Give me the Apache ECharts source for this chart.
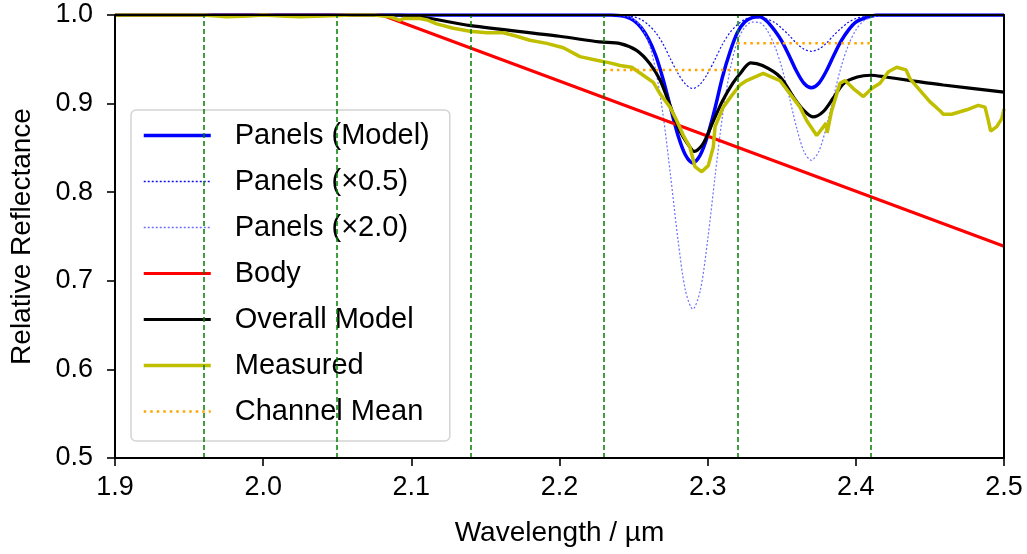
<!DOCTYPE html>
<html>
<head>
<meta charset="utf-8">
<script src="https://cdn.jsdelivr.net/npm/echarts@6/dist/echarts.min.js"></script>
<style>
  html, body { margin: 0; padding: 0; background: #fff; }
  #chart { width: 1027px; height: 554px; }
</style>
</head>
<body>
<div id="chart"></div>
<script>
// wavelength grid shared by the panel curves
const panelX = [1.9, 2.23, 2.235, 2.24, 2.245, 2.25, 2.255, 2.26, 2.265, 2.27, 2.275, 2.28, 2.285, 2.29, 2.295,
  2.30, 2.305, 2.31, 2.315, 2.32, 2.325, 2.33, 2.335, 2.34, 2.345, 2.35, 2.355, 2.36, 2.365, 2.37, 2.375,
  2.38, 2.385, 2.39, 2.395, 2.40, 2.405, 2.41, 2.415, 2.42, 2.5];
const panelModel = [1.0, 1.0, 1.0, 0.9995, 0.998, 0.994, 0.986, 0.973, 0.954, 0.927, 0.895, 0.864, 0.842, 0.833, 0.842,
  0.864, 0.895, 0.930, 0.958, 0.980, 0.992, 0.997, 0.998, 0.993, 0.983, 0.9705, 0.954, 0.9365, 0.923, 0.918, 0.923,
  0.9365, 0.954, 0.9705, 0.983, 0.992, 0.996, 0.9986, 1.0, 1.0, 1.0];
const panelHalf = [1.0, 1.0, 1.0, 0.9995, 0.999, 0.998, 0.995, 0.989, 0.980, 0.967, 0.950, 0.934, 0.922, 0.917, 0.922,
  0.934, 0.950, 0.967, 0.980, 0.989, 0.995, 0.997, 0.997, 0.9955, 0.9917, 0.985, 0.977, 0.968, 0.9615, 0.959, 0.9615,
  0.968, 0.977, 0.985, 0.9917, 0.996, 0.998, 0.999, 1.0, 1.0, 1.0];
const panelDouble = [1.0, 1.0, 0.9999, 0.9996, 0.9985, 0.995, 0.987, 0.970, 0.937, 0.886, 0.818, 0.746, 0.689, 0.668, 0.689,
  0.746, 0.818, 0.886, 0.937, 0.970, 0.986, 0.992, 0.9915, 0.983, 0.966, 0.941, 0.908, 0.873, 0.846, 0.836, 0.846,
  0.873, 0.908, 0.941, 0.966, 0.983, 0.993, 0.997, 0.999, 1.0, 1.0];

// body continuum
const bodyX = [1.9, 2.08, 2.5];
const bodyY = [1.0, 1.0, 0.739];

// overall model
const overallX = [1.9, 2.092, 2.14, 2.2, 2.227, 2.241, 2.252, 2.261, 2.268, 2.275, 2.281, 2.288, 2.291, 2.297, 2.304,
  2.31, 2.317, 2.322, 2.329, 2.337, 2.349, 2.358, 2.365, 2.371, 2.378, 2.385, 2.392, 2.401, 2.41, 2.42, 2.437, 2.459, 2.5];
const overallY = [1.0, 1.0, 0.988, 0.976, 0.9696, 0.9677, 0.960, 0.945, 0.926, 0.896, 0.870, 0.851, 0.846, 0.855, 0.881,
  0.903, 0.923, 0.934, 0.946, 0.943, 0.930, 0.907, 0.892, 0.885, 0.891, 0.907, 0.923, 0.930, 0.932, 0.930, 0.926, 0.921, 0.913];

// measured spectrum
const measX = [1.9, 1.96, 1.975, 1.99, 2.0, 2.012, 2.025, 2.04, 2.06, 2.075, 2.0856, 2.0924, 2.0946, 2.1058, 2.1115,
  2.1171, 2.1283, 2.1396, 2.1509, 2.162, 2.1711, 2.180, 2.1914, 2.2026, 2.2138, 2.2251, 2.234, 2.2408, 2.2487, 2.2565,
  2.2633, 2.2679, 2.2746, 2.2791, 2.2836, 2.288, 2.2914, 2.296, 2.3004, 2.3038, 2.305, 2.3105, 2.3162, 2.3218, 2.3263,
  2.3375, 2.3488, 2.3556, 2.3623, 2.3668, 2.3736, 2.3800, 2.3806, 2.3837, 2.3893, 2.3927, 2.3983, 2.4051, 2.4107, 2.4163,
  2.422, 2.4276, 2.4339, 2.4366, 2.4433, 2.4501, 2.4568, 2.459, 2.4647, 2.4748, 2.4826, 2.4872, 2.4894, 2.491, 2.4951,
  2.4985, 2.5];
const measY = [1.0, 1.0, 0.998, 0.999, 1.0, 0.999, 0.998, 0.999, 1.0, 1.0, 0.998, 0.994, 0.996, 0.996, 0.994,
  0.990, 0.985, 0.9816, 0.980, 0.980, 0.976, 0.9715, 0.968, 0.963, 0.953, 0.949, 0.946, 0.943, 0.941, 0.932,
  0.924, 0.911, 0.896, 0.881, 0.864, 0.851, 0.829, 0.823, 0.830, 0.851, 0.874, 0.896, 0.909, 0.921, 0.926,
  0.934, 0.926, 0.911, 0.896, 0.881, 0.864, 0.878, 0.867, 0.892, 0.923, 0.926, 0.917, 0.908, 0.917, 0.923,
  0.936, 0.941, 0.938, 0.928, 0.915, 0.902, 0.892, 0.888, 0.888, 0.893, 0.898, 0.896, 0.881, 0.869, 0.874,
  0.883, 0.894];

// channels: edges and mean of the measured spectrum inside each plotted channel
const channelEdges = [1.96, 2.05, 2.14, 2.23, 2.32, 2.41];
const channelStart = [2.23, 2.32];
const channelEnd = [2.32, 2.41];
const channelMean = [0.938, 0.968];

const xTicks = [1.9, 2.0, 2.1, 2.2, 2.3, 2.4, 2.5];
const yTicks = [0.5, 0.6, 0.7, 0.8, 0.9, 1.0];

function zip(xs, ys) {
  return xs.map((x, i) => [x, ys[i]]);
}

// segmentos de la media por canal, separados con un hueco
const meanData = [];
channelMean.forEach((m, i) => {
  if (i > 0) meanData.push([channelStart[i], '-']);
  meanData.push([channelStart[i], m]);
  meanData.push([channelEnd[i], m]);
});

const FONT = 'Liberation Sans';
const HALF_COLOR = '#1010ee';
const DOUBLE_COLOR = '#6f6fff';
const chart = echarts.init(document.getElementById('chart'));

const axisCommon = {
  type: 'value',
  z: 10,
  axisLine: { show: true, onZero: false, lineStyle: { color: '#000', width: 2 } },
  splitLine: { show: false }
};

const option = {
  animation: false,
  backgroundColor: '#fff',
  textStyle: { fontFamily: FONT },
  grid: { left: 115, right: 23, top: 15, bottom: 96, outerBoundsMode: 'none' },
  legend: {
    orient: 'vertical',
    left: 131,
    top: 110,
    data: [
      'Panels (Model)',
      { name: 'Panels (\u00d70.5)', lineStyle: { color: HALF_COLOR, width: 1.6, type: [2, 2] } },
      { name: 'Panels (\u00d72.0)', lineStyle: { color: DOUBLE_COLOR, width: 1.6, type: [2, 2] } },
      'Body', 'Overall Model', 'Measured', 'Channel Mean'
    ],
    itemWidth: 67,
    itemHeight: 14,
    itemGap: 17,
    padding: [11, 20, 15, 11],
    backgroundColor: 'rgba(255,255,255,0.8)',
    borderColor: '#d4d4d4',
    borderWidth: 1.5,
    borderRadius: 5,
    itemStyle: { opacity: 0 },
    lineStyle: { width: 'inherit' },
    textStyle: { fontFamily: FONT, fontSize: 29, color: '#000', lineHeight: 29, padding: [0, 0, 0, 19] }
  },
  xAxis: [
    Object.assign({}, axisCommon, {
      min: xTicks[0], max: xTicks[xTicks.length - 1], interval: 0.1,
      position: 'bottom',
      name: 'Wavelength / \u00b5m',
      nameLocation: 'middle',
      nameGap: 61,
      nameTextStyle: { fontFamily: FONT, fontSize: 28, color: '#000' },
      axisTick: { show: true, inside: false, length: 8, lineStyle: { color: '#000', width: 1.6 } },
      axisLabel: { margin: 16, fontFamily: FONT, fontSize: 27, color: '#000', showMaxLabel: true, showMinLabel: true,
        formatter: v => v.toFixed(1) }
    }),
    Object.assign({}, axisCommon, {
      min: xTicks[0], max: xTicks[xTicks.length - 1], interval: 0.1,
      position: 'top',
      axisTick: { show: false }, axisLabel: { show: false }
    })
  ],
  yAxis: [
    Object.assign({}, axisCommon, {
      min: yTicks[0], max: yTicks[yTicks.length - 1], interval: 0.1,
      position: 'left',
      name: 'Relative Reflectance',
      nameLocation: 'middle',
      nameGap: 79,
      nameTextStyle: { fontFamily: FONT, fontSize: 28, color: '#000' },
      axisTick: { show: true, inside: false, length: 8, lineStyle: { color: '#000', width: 1.6 } },
      axisLabel: { margin: 22, fontFamily: FONT, fontSize: 27, color: '#000', showMaxLabel: true, showMinLabel: true,
        formatter: v => v.toFixed(1) }
    }),
    Object.assign({}, axisCommon, {
      min: yTicks[0], max: yTicks[yTicks.length - 1], interval: 0.1,
      position: 'right',
      axisTick: { show: false }, axisLabel: { show: false }
    })
  ],
  series: [
    {
      name: 'Panels (Model)', type: 'line', symbol: 'none', smooth: 0.3,
      data: zip(panelX, panelModel),
      lineStyle: { color: '#0000ff', width: 3.5 }, itemStyle: { color: '#0000ff' }
    },
    {
      name: 'Panels (\u00d70.5)', type: 'line', symbol: 'none', smooth: 0.3,
      data: zip(panelX, panelHalf),
      lineStyle: { color: HALF_COLOR, width: 1.2, type: [2, 2] }, itemStyle: { color: HALF_COLOR }
    },
    {
      name: 'Panels (\u00d72.0)', type: 'line', symbol: 'none', smooth: 0.3,
      data: zip(panelX, panelDouble),
      lineStyle: { color: DOUBLE_COLOR, width: 1.2, type: [2, 2] }, itemStyle: { color: DOUBLE_COLOR }
    },
    {
      name: 'Body', type: 'line', symbol: 'none',
      data: zip(bodyX, bodyY),
      lineStyle: { color: '#ff0000', width: 3 }, itemStyle: { color: '#ff0000' }
    },
    {
      name: 'Overall Model', type: 'line', symbol: 'none', smooth: 0.3,
      data: zip(overallX, overallY),
      lineStyle: { color: '#000000', width: 3.2 }, itemStyle: { color: '#000000' }
    },
    {
      name: 'Measured', type: 'line', symbol: 'none',
      data: zip(measX, measY),
      lineStyle: { color: '#bfbf00', width: 3.5 }, itemStyle: { color: '#bfbf00' }
    },
    {
      name: 'Channel Mean', type: 'line', symbol: 'none', connectNulls: false,
      data: meanData,
      lineStyle: { color: '#ffa500', width: 2.5, type: [2.5, 4] }, itemStyle: { color: '#ffa500' }
    },
    {
      name: 'edges', type: 'line', data: [], silent: true,
      markLine: {
        symbol: 'none', silent: true, animation: false,
        label: { show: false },
        lineStyle: { color: '#008000', width: 1.5, type: [5, 3] },
        data: channelEdges.map(x => ({ xAxis: x }))
      }
    }
  ]
};

chart.setOption(option);
</script>
</body>
</html>
